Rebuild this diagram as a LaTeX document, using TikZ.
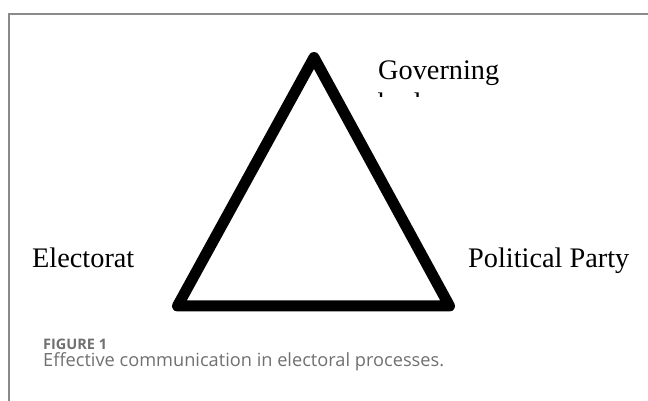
\documentclass[tikz,border=0pt]{standalone}
\usepackage{fontspec}
\setmainfont{Liberation Serif}
\newfontfamily\capfont{Open Sans}
\usetikzlibrary{positioning}
\definecolor{framegray}{HTML}{8A8A8A}
\definecolor{capgray}{HTML}{707070}

\begin{document}
\begin{tikzpicture}[
  x=1pt,y=1pt,
  actor/.style={inner sep=0pt,anchor=base west,font=\fontsize{28.3}{32.5}\selectfont},
  edge/.style={line width=11pt,line join=round,line cap=round},
  caption/.style={inner sep=0pt,anchor=base west,text=capgray}
]
\useasboundingbox (0,0) rectangle (648,401);
\draw[framegray,line width=1.5pt] (648,387) -- (9,387) -- (9,0);
% corners of the triangle
\coordinate (gov) at (314,343.5);
\coordinate (elec) at (177.5,95);
\coordinate (party) at (449.5,95);
\draw[edge] (gov) -- (elec) -- (party) -- cycle;
% labels
\node[actor] (govtxt) at (378,321) {Governing};
\begin{scope}
  \clip (370,304) rectangle (520,320);
  \node[actor] (bodytxt) at (378,288.5) {body};
\end{scope}
\node[actor] (electxt) at (32,133) {Electorat};
\node[actor] (partytxt) at (468,133) {Political Party};
% caption
\node[caption,font=\capfont\bfseries\fontsize{14.5}{17}\selectfont] (fig) at (43,51) {FIGURE 1};
\node[caption,font=\capfont\fontsize{18.2}{21}\selectfont] (captxt) at (43,34) {Effective communication in electoral processes.};
\end{tikzpicture}
\end{document}
